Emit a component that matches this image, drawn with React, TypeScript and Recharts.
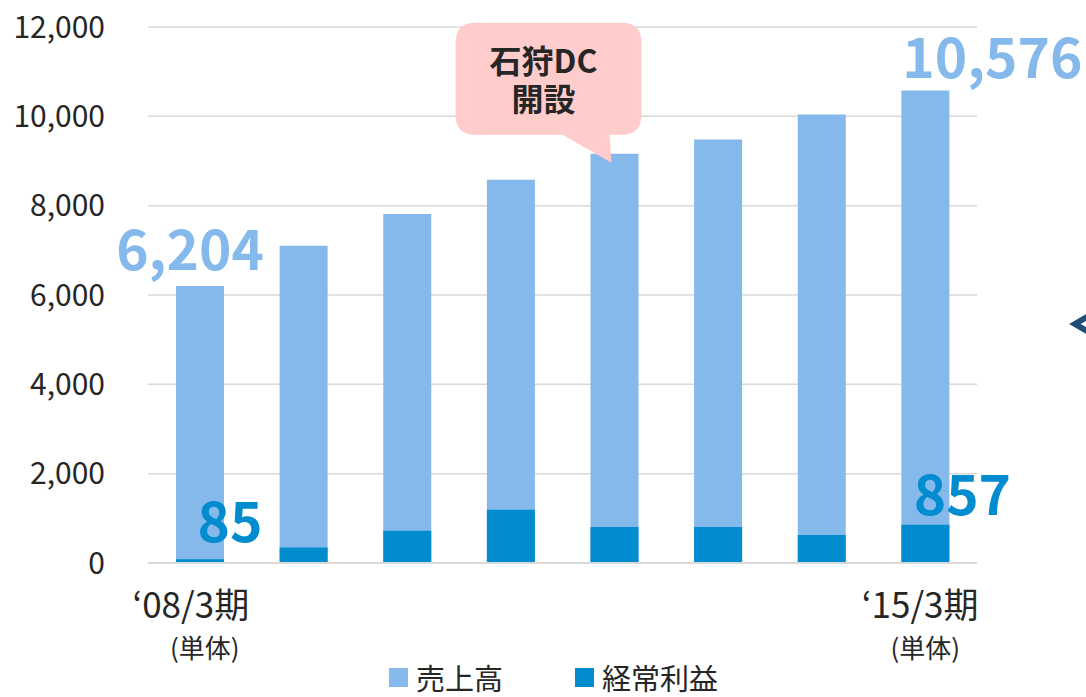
import React from "react";
import { BarChart, Bar, XAxis, YAxis, CartesianGrid, LabelList, Legend } from "recharts";

const categories = ["‘08/3期", "‘09/3期", "‘10/3期", "‘11/3期", "‘12/3期", "‘13/3期", "‘14/3期", "‘15/3期"];
const tickLabels = ["‘08/3期", "", "", "", "", "", "", "‘15/3期"];
const subLabels = ["(単体)", "", "", "", "", "", "", "(単体)"];
const sales = [6204, 7105, 7815, 8580, 9160, 9480, 10040, 10576];
const profit = [85, 345, 723, 1194, 806, 806, 627, 857];
const yTicks = [0, 2000, 4000, 6000, 8000, 10000, 12000];
const salesLabelIdx = [0, 7];
const profitLabelIdx = [0, 7];
const calloutIdx = 4;
const calloutLines = ["石狩DC", "開設"];
const seriesNames = ["売上高", "経常利益"];

const SALES_COLOR = "#85B9EC";
const PROFIT_COLOR = "#008CCE";
const TEXT_COLOR = "#262626";
const FONT = "'Noto Sans CJK JP', 'Noto Sans', sans-serif";

const data = categories.map((c, i) => ({ name: c, sales: sales[i], profit: profit[i] }));

const fmt = (v: number) => v.toLocaleString("en-US");

function vb(props: any) {
  const v = props.viewBox || {};
  return {
    x: v.x ?? props.x,
    y: v.y ?? props.y,
    width: v.width ?? props.width,
    height: v.height ?? props.height,
  };
}

const XTick = (props: any) => {
  const { x, y, payload } = props;
  const i = payload?.index ?? props.index;
  const main = tickLabels[i];
  const sub = subLabels[i];
  if (!main) return null;
  const first = i === 0;
  return (
    <g>
      <text x={x + (first ? -9 : -5)} y={y + 55} textAnchor="middle" fontSize={35} fill={TEXT_COLOR} fontFamily={FONT}>
        {main}
      </text>
      <text x={x + (first ? 5 : 0)} y={y + 95} textAnchor="middle" fontSize={26} fill={TEXT_COLOR} fontFamily={FONT}>
        {sub}
      </text>
    </g>
  );
};

const SalesLabel = (props: any) => {
  const { index, value } = props;
  const b = vb(props);
  const cx = b.x + b.width / 2;
  const nodes: any[] = [];
  if (salesLabelIdx.includes(index)) {
    const dx = index === 0 ? -10 : 67;
    const dy = index === 0 ? -16 : -13;
    nodes.push(
      <text key="v" x={cx + dx} y={b.y + dy} textAnchor="middle" fontSize={55} fontWeight="bold" fill={SALES_COLOR} fontFamily={FONT}>
        {fmt(value)}
      </text>
    );
  }
  if (index === calloutIdx) {
    const left = b.x - 135;
    const right = b.x + 51;
    const top = b.y - 131;
    const bottom = b.y - 19;
    const r = 20;
    const t1 = b.x - 28;
    const t2 = b.x + 19;
    const tipX = b.x + 21;
    const tipY = b.y + 9;
    const d = [
      `M ${left + r} ${top}`,
      `L ${right - r} ${top}`,
      `Q ${right} ${top} ${right} ${top + r}`,
      `L ${right} ${bottom - r}`,
      `Q ${right} ${bottom} ${right - r} ${bottom}`,
      `L ${t2} ${bottom}`,
      `L ${tipX} ${tipY}`,
      `L ${t1} ${bottom}`,
      `L ${left + r} ${bottom}`,
      `Q ${left} ${bottom} ${left} ${bottom - r}`,
      `L ${left} ${top + r}`,
      `Q ${left} ${top} ${left + r} ${top}`,
      "Z",
    ].join(" ");
    const tx = b.x - 47;
    nodes.push(
      <g key="callout">
        <path d={d} fill="#FFCCCC" />
        <text x={tx} y={top + 50} textAnchor="middle" fontSize={32} fontWeight="bold" fill={TEXT_COLOR} fontFamily={FONT}>
          <tspan x={tx} y={top + 50}>{calloutLines[0]}</tspan>
          <tspan x={tx} y={top + 88}>{calloutLines[1]}</tspan>
        </text>
      </g>
    );
  }
  return <g>{nodes}</g>;
};

const ProfitLabel = (props: any) => {
  const { index, value } = props;
  if (!profitLabelIdx.includes(index)) return null;
  const b = vb(props);
  const cx = b.x + b.width / 2;
  const dx = index === 0 ? 30 : 37;
  const dy = index === 0 ? -17 : -10;
  return (
    <text x={cx + dx} y={b.y + dy} textAnchor="middle" fontSize={55} fontWeight="bold" fill={PROFIT_COLOR} fontFamily={FONT}>
      {fmt(value)}
    </text>
  );
};

const LegendContent = () => {
  const colors = [SALES_COLOR, PROFIT_COLOR];
  return (
    <div style={{ position: "relative", width: 1086, height: 30, fontFamily: FONT }}>
      {seriesNames.map((n, i) => (
        <div
          key={n}
          style={{
            position: "absolute",
            left: i === 0 ? 389 : 575,
            top: 0,
            display: "flex",
            alignItems: "center",
            height: 30,
          }}
        >
          <div style={{ width: 19, height: 19, background: colors[i], marginRight: 8 }} />
          <span style={{ display: "block", fontSize: 29, color: TEXT_COLOR, lineHeight: "30px", height: 30, whiteSpace: "nowrap" }}>{n}</span>
        </div>
      ))}
    </div>
  );
};

export default function App() {
  return (
    <div style={{ position: "absolute", left: 0, top: 0, width: 1086, height: 697, background: "#fff" }}>
      <BarChart
        width={1086}
        height={697}
        data={data}
        margin={{ top: 27, right: 109, bottom: 0, left: 0 }}
        barGap={-48}
      >
        <CartesianGrid vertical={false} stroke="#D9D9D9" strokeWidth={1.5} />
        <XAxis
          dataKey="name"
          height={134}
          interval={0}
          tickLine={false}
          tickSize={0}
          tickMargin={0}
          axisLine={{ stroke: "#D9D9D9", strokeWidth: 2 }}
          tick={<XTick />}
        />
        <YAxis
          width={148}
          domain={[0, 12000]}
          ticks={yTicks}
          axisLine={false}
          tickLine={false}
          tickSize={0}
          tickMargin={43}
          tickFormatter={fmt}
          tick={{ fontSize: 30, fill: TEXT_COLOR, fontFamily: FONT }}
        />
        <Legend
          layout="horizontal"
          verticalAlign="middle"
          align="center"
          content={<LegendContent />}
          wrapperStyle={{ top: 662, left: 0, width: 1086 }}
        />
        <Bar dataKey="sales" name={seriesNames[0]} fill={SALES_COLOR} barSize={48} isAnimationActive={false}>
          <LabelList dataKey="sales" content={<SalesLabel />} />
        </Bar>
        <Bar dataKey="profit" name={seriesNames[1]} fill={PROFIT_COLOR} barSize={48} isAnimationActive={false}>
          <LabelList dataKey="profit" content={<ProfitLabel />} />
        </Bar>
      </BarChart>
      <svg style={{ position: "absolute", left: 1060, top: 305, overflow: "visible" }} width={26} height={45}>
        <polyline points="32,9 15,19 32,29" fill="none" stroke="#1F4E79" strokeWidth={6} />
      </svg>
    </div>
  );
}
